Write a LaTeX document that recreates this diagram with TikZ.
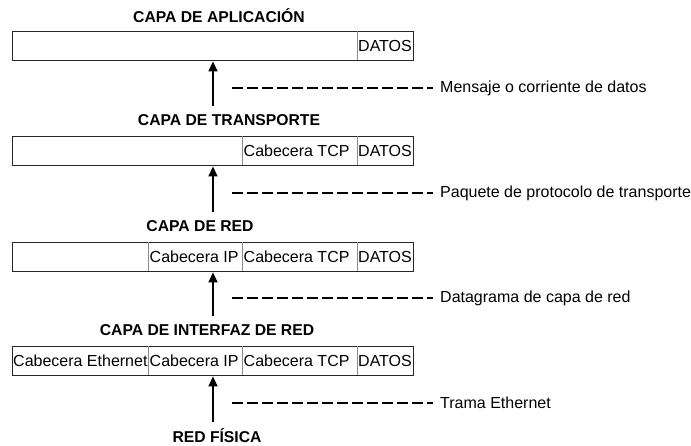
\documentclass[tikz,border=0pt]{standalone}
\usepackage{fontspec}
\setmainfont{Liberation Sans}
\usetikzlibrary{arrows.meta}
\begin{document}
\begin{tikzpicture}[x=1pt,y=-1pt,
  bar/.style={draw=black!85,line width=1.4pt,minimum width=401pt,minimum height=29pt,inner sep=0pt,anchor=north west},
  cell/.style={anchor=west,inner sep=0pt,font=\fontsize{16}{16}\selectfont},
  title/.style={font=\bfseries\fontsize{15.7}{15.7}\selectfont,inner sep=0pt},
  div/.style={draw=black!45,line width=0.9pt},
  arr/.style={line width=1.4pt,-{Triangle[length=10pt,width=9pt]}},
  dsh/.style={line width=1.4pt,dash pattern=on 11pt off 4pt},
  lbl/.style={anchor=west,inner sep=0pt,font=\fontsize{16}{16}\selectfont}]
\useasboundingbox (0,0) rectangle (691,445);

% titles
\node[title] (t1) at (219,16) {CAPA DE APLICACIÓN};
\node[title] (t2) at (229,120) {CAPA DE TRANSPORTE};
\node[title] (t3) at (200,226) {CAPA DE RED};
\node[title] (t4) at (207,330) {CAPA DE INTERFAZ DE RED};
\node[title] (t5) at (217,436) {RED FÍSICA};

% bars
\node[bar] (b1) at (12,31) {};
\node[bar] (b2) at (12,136) {};
\node[bar] (b3) at (12,242) {};
\node[bar] (b4) at (12,346) {};

% bar 1
\draw[div] (357,31) -- (357,60);
\node[cell] (b1d) at (358,45.5) {DATOS};

% bar 2
\draw[div] (242,136) -- (242,165);
\draw[div] (357,136) -- (357,165);
\node[cell] (b2t) at (243.5,150.5) {Cabecera TCP};
\node[cell] (b2d) at (358,150.5) {DATOS};

% bar 3
\draw[div] (148,242) -- (148,271);
\draw[div] (242,242) -- (242,271);
\draw[div] (357,242) -- (357,271);
\node[cell] (b3i) at (149.5,256.5) {Cabecera IP};
\node[cell] (b3t) at (243.5,256.5) {Cabecera TCP};
\node[cell] (b3d) at (358,256.5) {DATOS};

% bar 4
\draw[div] (148,346) -- (148,375);
\draw[div] (242,346) -- (242,375);
\draw[div] (357,346) -- (357,375);
\node[cell] (b4e) at (13,360.5) {Cabecera Ethernet};
\node[cell] (b4i) at (149.5,360.5) {Cabecera IP};
\node[cell] (b4t) at (243.5,360.5) {Cabecera TCP};
\node[cell] (b4d) at (358,360.5) {DATOS};

% arrows
\coordinate (a1) at (213,106);
\coordinate (a2) at (213,212);
\coordinate (a3) at (213,316);
\coordinate (a4) at (213,422);
\draw[arr] (a1) -- (a1 |- b1.south);
\draw[arr] (a2) -- (a2 |- b2.south);
\draw[arr] (a3) -- (a3 |- b3.south);
\draw[arr] (a4) -- (a4 |- b4.south);

% dashed leaders and labels
\node[lbl] (l1) at (440,88) {Mensaje o corriente de datos};
\node[lbl] (l2) at (440,193) {Paquete de protocolo de transporte};
\node[lbl] (l3) at (440,298) {Datagrama de capa de red};
\node[lbl] (l4) at (440,403) {Trama Ethernet};
\coordinate (d1) at (232,88);
\coordinate (d2) at (232,193);
\coordinate (d3) at (232,298);
\coordinate (d4) at (232,403);
\draw[dsh] (d1) -- ([xshift=-7pt]l1.west);
\draw[dsh] (d2) -- ([xshift=-7pt]l2.west);
\draw[dsh] (d3) -- ([xshift=-7pt]l3.west);
\draw[dsh] (d4) -- ([xshift=-7pt]l4.west);
\end{tikzpicture}
\end{document}
